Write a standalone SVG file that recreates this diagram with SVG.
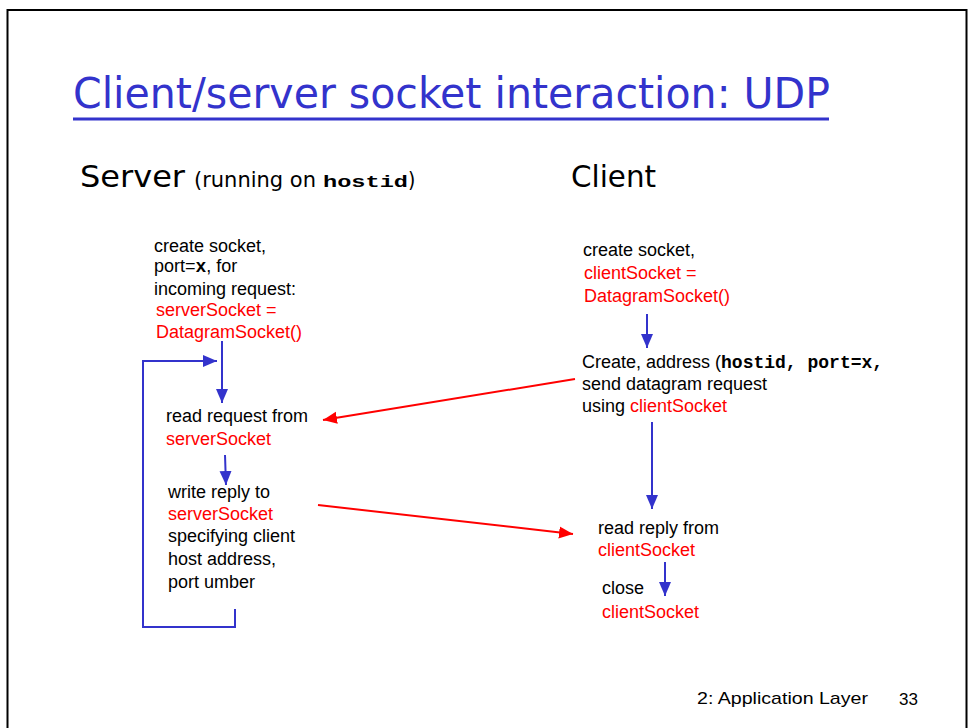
<svg xmlns="http://www.w3.org/2000/svg" width="968" height="728" viewBox="0 0 968 728">
<defs>
<style>
.t{font-family:"Liberation Sans",Arial,sans-serif;font-size:18px;fill:#000}
.r{fill:#ff0000}
.m{font-family:"Liberation Mono","Courier New",monospace;font-weight:bold}
.b{stroke:#3333cc;stroke-width:2;fill:none}
.rd{stroke:#ff0000;stroke-width:2;fill:none}
</style>
<marker id="ab" markerUnits="userSpaceOnUse" markerWidth="16" markerHeight="16" viewBox="0 0 16 16" refX="14" refY="8" orient="auto">
<path d="M0,2 L14,8 L0,14 Z" fill="#3333cc"/>
</marker>
<marker id="ar" markerUnits="userSpaceOnUse" markerWidth="16" markerHeight="16" viewBox="0 0 16 16" refX="14" refY="8" orient="auto">
<path d="M0,2 L14,8 L0,14 Z" fill="#ff0000"/>
</marker>
</defs>
<rect x="0" y="0" width="968" height="728" fill="#fff"/>
<rect x="7.5" y="10" width="959" height="730" fill="none" stroke="#000" stroke-width="2"/>

<g id="title">
<text x="73" y="108" font-family="'DejaVu Sans Condensed','Liberation Sans Narrow','Liberation Sans',sans-serif" font-stretch="condensed" font-size="43" fill="#3333cc" textLength="757" lengthAdjust="spacingAndGlyphs">Client/server socket interaction: UDP</text>
<line x1="73" y1="119" x2="829" y2="119" stroke="#3333cc" stroke-width="3"/>
</g>

<g id="server-label">
<text x="80" y="187" font-family="'DejaVu Sans Condensed','Liberation Sans',sans-serif" font-size="30" textLength="105" lengthAdjust="spacingAndGlyphs">Server</text>
<text x="194" y="187" font-family="'DejaVu Sans Condensed','Liberation Sans',sans-serif" font-size="21" textLength="122" lengthAdjust="spacingAndGlyphs">(running on</text>
<text x="323" y="187" class="m" font-size="17" textLength="85" lengthAdjust="spacingAndGlyphs">hostid</text>
<text x="408" y="187" font-family="'DejaVu Sans Condensed','Liberation Sans',sans-serif" font-size="21">)</text>
</g>
<g id="client-label">
<text x="571" y="187" font-family="'DejaVu Sans Condensed','Liberation Sans',sans-serif" font-size="30" textLength="85" lengthAdjust="spacingAndGlyphs">Client</text>
</g>

<g id="server-create">
<text class="t" x="154" y="252">create socket,</text>
<text class="t" x="154" y="272">port=<tspan class="m">x</tspan>, for</text>
<text class="t" x="154" y="295">incoming request:</text>
<text class="t r" x="156" y="316">serverSocket =</text>
<text class="t r" x="156" y="338">DatagramSocket()</text>
</g>

<g id="server-read">
<text class="t" x="166" y="422">read request from</text>
<text class="t r" x="166" y="445">serverSocket</text>
</g>

<g id="server-write">
<text class="t" x="168" y="498">write reply to</text>
<text class="t r" x="168" y="520">serverSocket</text>
<text class="t" x="168" y="542">specifying client</text>
<text class="t" x="168" y="565">host address,</text>
<text class="t" x="168" y="588">port umber</text>
</g>

<g id="client-create">
<text class="t" x="583" y="256">create socket,</text>
<text class="t r" x="584" y="279">clientSocket =</text>
<text class="t r" x="584" y="302">DatagramSocket()</text>
</g>

<g id="client-send">
<text class="t" x="582" y="368">Create, address (<tspan class="m" font-size="18">hostid, port=x,</tspan></text>
<text class="t" x="582" y="390">send datagram request</text>
<text class="t" x="582" y="412">using <tspan class="r">clientSocket</tspan></text>
</g>

<g id="client-read">
<text class="t" x="598" y="534">read reply from</text>
<text class="t r" x="598" y="556">clientSocket</text>
</g>

<g id="client-close">
<text class="t" x="602" y="594">close</text>
<text class="t r" x="602" y="618">clientSocket</text>
</g>

<g id="connectors">
<line class="b" x1="222" y1="341" x2="222" y2="403" marker-end="url(#ab)"/>
<polyline class="b" points="235,609 235,627 143,627 143,361 217,361" marker-end="url(#ab)"/>
<line class="b" x1="225" y1="455" x2="226" y2="485" marker-end="url(#ab)"/>
<line class="b" x1="647" y1="314" x2="647" y2="348" marker-end="url(#ab)"/>
<line class="b" x1="652" y1="422" x2="652" y2="509" marker-end="url(#ab)"/>
<line class="b" x1="665" y1="562" x2="665" y2="596" marker-end="url(#ab)"/>
<line class="rd" x1="575" y1="379" x2="323" y2="420" marker-end="url(#ar)"/>
<line class="rd" x1="318" y1="505" x2="573" y2="534" marker-end="url(#ar)"/>
</g>

<g id="footer">
<text x="697" y="704" font-family="'Liberation Sans',sans-serif" font-size="17" textLength="171" lengthAdjust="spacingAndGlyphs">2: Application Layer</text>
<text x="899" y="705" font-family="'Liberation Sans',sans-serif" font-size="17">33</text>
</g>
</svg>
